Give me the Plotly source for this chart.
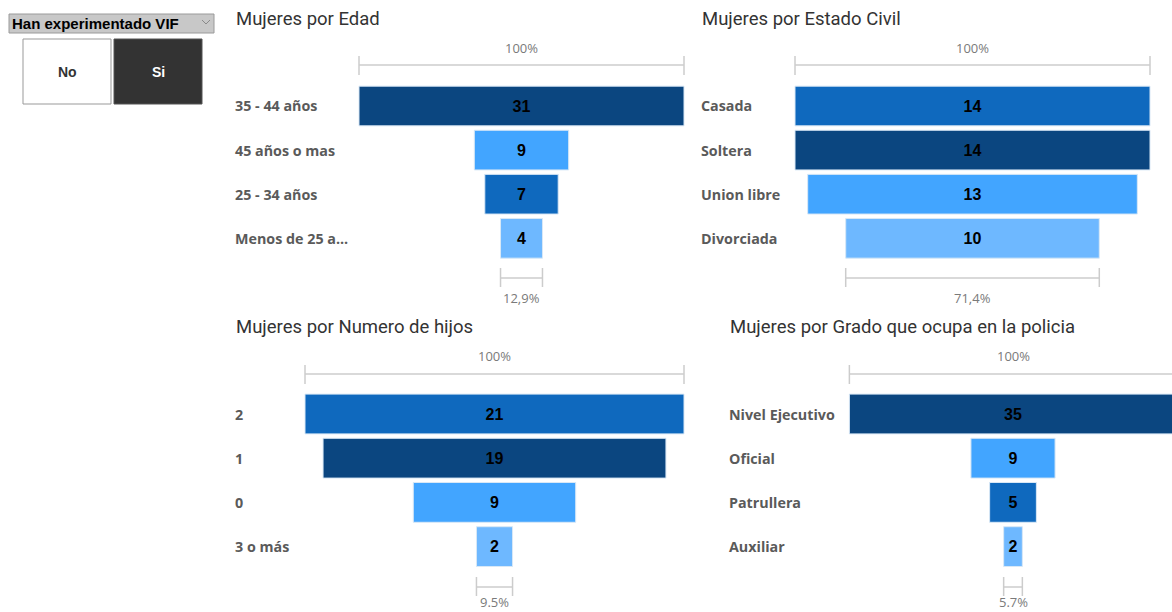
import plotly.graph_objects as go

W, H = 1172, 612

# ---------------- data ----------------
edad_cats = ["35 - 44 años", "45 años o mas", "25 - 34 años", "Menos de 25 a..."]
edad_vals = [31, 9, 7, 4]

civil_cats = ["Casada", "Soltera", "Union libre", "Divorciada"]
civil_vals = [14, 14, 13, 10]

hijos_cats = ["2", "1", "0", "3 o más"]
hijos_vals = [21, 19, 9, 2]

grado_cats = ["Nivel Ejecutivo", "Oficial", "Patrullera", "Auxiliar"]
grado_vals = [35, 9, 5, 2]

titles = ["Mujeres por Edad", "Mujeres por Estado Civil",
          "Mujeres por Numero de hijos", "Mujeres por Grado que ocupa en la policia"]
slicer_title = "Han experimentado VIF"
slicer_options = ["No", "Si"]

# ---------------- style ----------------
DARK, MID, LIGHT, LIGHTER = "#0B4680", "#0F69BE", "#42A5FF", "#6EB8FF"

def px(x):
    return x / W

def py(y):
    return 1 - y / H

panels = [
    dict(cats=edad_cats, vals=edad_vals, colors=[DARK, LIGHT, MID, LIGHTER], title=titles[0],
         tx=235, ty=19, lx=235, center=521.5, scale=325 / 31, row0=106, sp=44.1,
         t_text=48, t_line=65, b_line=278, b_text=298, dec=","),
    dict(cats=civil_cats, vals=civil_vals, colors=[MID, DARK, LIGHT, LIGHTER], title=titles[1],
         tx=701, ty=19, lx=701, center=972.5, scale=355 / 14, row0=106, sp=44.1,
         t_text=48, t_line=65, b_line=278, b_text=298, dec=","),
    dict(cats=hijos_cats, vals=hijos_vals, colors=[MID, DARK, LIGHT, LIGHTER], title=titles[2],
         tx=235, ty=327, lx=235, center=494.5, scale=379 / 21, row0=414, sp=44.2,
         t_text=356, t_line=374, b_line=587, b_text=602, dec="."),
    dict(cats=grado_cats, vals=grado_vals, colors=[DARK, LIGHT, MID, LIGHTER], title=titles[3],
         tx=729, ty=327, lx=729, center=1013, scale=9.35, row0=414, sp=44.2,
         t_text=356, t_line=374, b_line=587, b_text=602, dec="."),
]

fig = go.Figure()
shapes = []
annotations = []
LINE_C = "#cccccc"
layout_axes = {}

for i, p in enumerate(panels):
    n = i + 1
    xa = "x" if n == 1 else f"x{n}"
    ya = "y" if n == 1 else f"y{n}"
    vmax = max(p["vals"])
    half_px = vmax / 2 * p["scale"] + 4
    left_px = p["center"] - half_px
    right_px = min(p["center"] + half_px, W)
    xr = [(left_px - p["center"]) / p["scale"], (right_px - p["center"]) / p["scale"]]
    top_px = p["row0"] - p["sp"] / 2
    bot_px = p["row0"] + p["sp"] * (len(p["cats"]) - 0.5)
    idx = list(range(len(p["cats"])))

    fig.add_trace(go.Bar(
        y=idx, x=p["vals"], base=[-v / 2 for v in p["vals"]],
        orientation="h", width=0.9,
        marker=dict(color=p["colors"], line=dict(color="#d9e8f6", width=1)),
        text=[str(v) for v in p["vals"]], textposition="inside",
        insidetextanchor="middle", textangle=0, constraintext="none",
        textfont=dict(family="Liberation Sans, Arial", size=16, color="#000000", weight="bold"),
        xaxis=xa, yaxis=ya, showlegend=False, hoverinfo="skip",
    ))
    layout_axes["xaxis" if n == 1 else f"xaxis{n}"] = dict(
        domain=[px(left_px), px(right_px)], range=xr, visible=False, fixedrange=True,
        anchor=ya)
    layout_axes["yaxis" if n == 1 else f"yaxis{n}"] = dict(
        domain=[py(bot_px), py(top_px)],
        range=[len(p["cats"]) - 0.5, -0.5], visible=False, fixedrange=True, anchor=xa)

    # title
    annotations.append(dict(text=p["title"], x=px(p["tx"]), y=py(p["ty"]), xref="paper", yref="paper",
                            xanchor="left", yanchor="middle", showarrow=False, xshift=-1,
                            font=dict(family="Roboto, DejaVu Sans", size=18.5, color="#333333")))
    # category labels
    for j, c in zip(idx, p["cats"]):
        annotations.append(dict(text=c, x=px(p["lx"]), y=j, xref="paper", yref=ya,
                                xanchor="left", yanchor="middle", showarrow=False, xshift=-2,
                                font=dict(family="Open Sans, Noto Sans", size=14.3, color="#5a5a5a",
                                          weight="bold")))
    # top bracket (100%)
    x0, x1 = -vmax / 2, vmax / 2
    shapes.append(dict(type="line", xref=xa, yref="paper", x0=x0, x1=x1,
                       y0=py(p["t_line"]), y1=py(p["t_line"]), line=dict(color=LINE_C, width=1.5)))
    for xe in (x0, x1):
        shapes.append(dict(type="line", xref=xa, yref="paper", x0=xe, x1=xe,
                           y0=py(p["t_line"] - 9), y1=py(p["t_line"] + 10), line=dict(color=LINE_C, width=1.5)))
    annotations.append(dict(text="100%", x=0, y=py(p["t_text"]), xref=xa, yref="paper",
                            xanchor="center", yanchor="middle", showarrow=False,
                            font=dict(family="Open Sans, Noto Sans", size=13, color="#7a7a7a")))
    # bottom bracket (last / first)
    vl = p["vals"][-1]
    b0, b1 = -vl / 2, vl / 2
    shapes.append(dict(type="line", xref=xa, yref="paper", x0=b0, x1=b1,
                       y0=py(p["b_line"]), y1=py(p["b_line"]), line=dict(color=LINE_C, width=1.5)))
    for xe in (b0, b1):
        shapes.append(dict(type="line", xref=xa, yref="paper", x0=xe, x1=xe,
                           y0=py(p["b_line"] - 10), y1=py(p["b_line"] + 9), line=dict(color=LINE_C, width=1.5)))
    pct = f"{100 * vl / p['vals'][0]:.1f}%".replace(".", p["dec"])
    annotations.append(dict(text=pct, x=0, y=py(p["b_text"]), xref=xa, yref="paper",
                            xanchor="center", yanchor="middle", showarrow=False,
                            font=dict(family="Open Sans, Noto Sans", size=13, color="#7a7a7a")))

# ---------------- slicer ----------------
shapes.append(dict(type="rect", xref="paper", yref="paper", x0=px(9), x1=px(214), y0=py(33), y1=py(14),
                   fillcolor="#c8c8c8", line=dict(color="#9a9a9a", width=1)))
annotations.append(dict(text=slicer_title, x=px(10), y=py(23.5), xref="paper", yref="paper",
                        xanchor="left", yanchor="middle", showarrow=False,
                        font=dict(family="Liberation Sans, Arial", size=15, color="#000000", weight="bold")))
shapes.append(dict(type="path", xref="paper", yref="paper",
                   path=f"M {px(202)},{py(20)} L {px(206)},{py(24)} L {px(210)},{py(20)}",
                   line=dict(color="#8a8a8a", width=1)))
btns = [(23, 111, "#ffffff", "#333333", "#999999"), (114, 202, "#333333", "#ffffff", "#555555")]
for (bx0, bx1, fill, tcol, bcol), label in zip(btns, slicer_options):
    shapes.append(dict(type="rect", xref="paper", yref="paper", x0=px(bx0), x1=px(bx1),
                       y0=py(104), y1=py(39), fillcolor=fill, line=dict(color=bcol, width=1)))
    annotations.append(dict(text=label, x=px((bx0 + bx1) / 2), y=py(71.5), xref="paper", yref="paper",
                            xanchor="center", yanchor="middle", showarrow=False,
                            font=dict(family="Liberation Sans, Arial", size=14, color=tcol, weight="bold")))

fig.update_layout(
    width=W, height=H, margin=dict(l=0, r=0, t=0, b=0),
    paper_bgcolor="#ffffff", plot_bgcolor="rgba(0,0,0,0)",
    barmode="overlay", shapes=shapes, annotations=annotations,
    **layout_axes,
)

fig.write_html("out.html", config={"displayModeBar": False},
               post_script="document.body.style.margin='0';document.body.style.padding='0';"
                           "document.documentElement.style.overflow='hidden';")
